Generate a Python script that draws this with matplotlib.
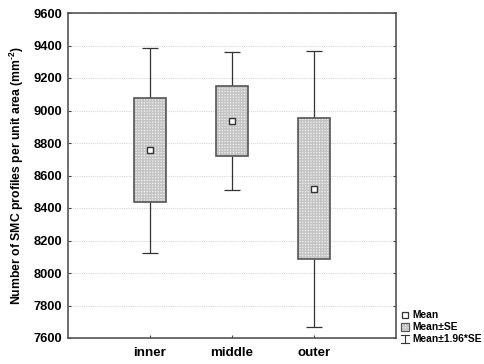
import numpy as np
import matplotlib
matplotlib.use("Agg")
import matplotlib.pyplot as plt
from matplotlib.patches import Rectangle

# values
groups = ["inner", "middle", "outer"]
means = [8755, 8935, 8520]
se_low = [8435, 8718, 8086]
se_high = [9075, 9153, 8954]
ci_low = [8125, 8509, 7669]
ci_high = [9382, 9360, 9368]

yticks = np.arange(7600, 9601, 200)

plt.rcParams['font.family'] = ['Liberation Sans', 'DejaVu Sans']
plt.rcParams['font.weight'] = 'bold'
plt.rcParams['mathtext.fontset'] = 'custom'
plt.rcParams['mathtext.rm'] = 'Liberation Sans:bold'
plt.rcParams['mathtext.bf'] = 'Liberation Sans:bold'
plt.rcParams['mathtext.it'] = 'Liberation Sans:bold'

fig = plt.figure(figsize=(4.85, 3.64), dpi=100)
ax = fig.add_axes([68/485, 1 - 338/364, 328/485, 325/364])

edge = '#555555'
x = np.arange(1, len(groups) + 1)
box_w = 0.40
cap_w = 0.195

# whiskers (mean +- 1.96*SE)
ax.vlines(x, ci_low, se_low, color='#333333', lw=0.9, zorder=3)
ax.vlines(x, se_high, ci_high, color='#333333', lw=0.9, zorder=3)
ax.hlines(ci_low, x - cap_w/2, x + cap_w/2, color='#333333', lw=0.9, zorder=3)
ax.hlines(ci_high, x - cap_w/2, x + cap_w/2, color='#333333', lw=0.9, zorder=3)

# boxes (mean +- SE), stippled fill
heights = np.array(se_high) - np.array(se_low)
ax.bar(x, heights, bottom=se_low, width=box_w, color='#f0f0f0',
       edgecolor='#c4c4c4', hatch='++++++', linewidth=0, zorder=3)
ax.bar(x, heights, bottom=se_low, width=box_w, color='none',
       edgecolor=edge, linewidth=1.2, zorder=4)

# means
ax.plot(x, means, 's', ms=4.5, mfc='white', mec='#333333', mew=1.0, zorder=5)

ax.set_xlim(0, 4)
ax.set_ylim(7600, 9600)
ax.set_yticks(yticks)
ax.set_xticks(x)
ax.set_xticklabels(groups, fontsize=9.6, fontweight='bold')
ax.set_yticklabels([str(v) for v in yticks], fontsize=9.3, fontweight='bold')
ax.tick_params(axis='both', direction='in', length=2.5, width=0.8, color='#444444',
               right=True, pad=4)
ax.tick_params(axis='x', pad=6.5)
ax.grid(axis='y', color='#d8d8d8', linestyle=(0, (1, 1)), linewidth=0.8, zorder=0)
ax.set_axisbelow(True)
for s in ax.spines.values():
    s.set_color(edge)
    s.set_linewidth(1.2)

ax.set_ylabel("Number of SMC profiles per unit area (mm$^{\\text{-2}}$)",
              fontsize=8.8, fontweight='bold')
ax.yaxis.set_label_coords(-0.128, 0.5)

# legend drawn by hand at lower right, outside the axes
lx = fig.add_axes([398/485, 0, 87/485, 364/364])
lx.set_xlim(398, 485)
lx.set_ylim(364, 0)
lx.axis('off')
lx.plot([405], [315], 's', ms=4.2, mfc='white', mec='#333333', mew=0.9)
lx.text(412, 315, "Mean", fontsize=7.4, fontweight='bold', va='center')
lx.add_patch(Rectangle((400.5, 322.5), 8.5, 8, facecolor='#f0f0f0', edgecolor='#c4c4c4',
                       hatch='++++++', lw=0))
lx.add_patch(Rectangle((400.5, 322.5), 8.5, 8, facecolor='none', edgecolor=edge, lw=0.9))
lx.text(412, 327, "Mean\u00b1SE", fontsize=7.4, fontweight='bold', va='center')
lx.plot([405, 405], [334.5, 343], color='#333333', lw=0.8)
lx.plot([401, 409], [334.5, 334.5], color='#333333', lw=0.8)
lx.plot([401, 409], [343, 343], color='#333333', lw=0.8)
lx.text(412, 339, "Mean\u00b11.96*SE", fontsize=7.4, fontweight='bold', va='center')

fig.savefig("out.png", dpi=100)
